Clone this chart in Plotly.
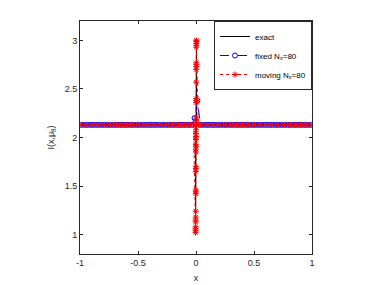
import plotly.graph_objects as go

# exact solution
exact_x = [-1.0, -0.005, -0.004, 0.004, 0.005, 1.0]
exact_y = [2.13, 2.13, 1.0, 3.0, 2.13, 2.13]

# fixed mesh, N_x = 80 (cell centres)
fixed_x = [-0.9875, -0.9625, -0.9375, -0.9125, -0.8875, -0.8625, -0.8375, -0.8125,
           -0.7875, -0.7625, -0.7375, -0.7125, -0.6875, -0.6625, -0.6375, -0.6125,
           -0.5875, -0.5625, -0.5375, -0.5125, -0.4875, -0.4625, -0.4375, -0.4125,
           -0.3875, -0.3625, -0.3375, -0.3125, -0.2875, -0.2625, -0.2375, -0.2125,
           -0.1875, -0.1625, -0.1375, -0.1125, -0.0875, -0.0625, -0.0375, -0.0125,
           0.0125, 0.0375, 0.0625, 0.0875, 0.1125, 0.1375, 0.1625, 0.1875,
           0.2125, 0.2375, 0.2625, 0.2875, 0.3125, 0.3375, 0.3625, 0.3875,
           0.4125, 0.4375, 0.4625, 0.4875, 0.5125, 0.5375, 0.5625, 0.5875,
           0.6125, 0.6375, 0.6625, 0.6875, 0.7125, 0.7375, 0.7625, 0.7875,
           0.8125, 0.8375, 0.8625, 0.8875, 0.9125, 0.9375, 0.9625, 0.9875]
fixed_y = [2.13, 2.13, 2.13, 2.13, 2.13, 2.13, 2.13, 2.13, 2.13, 2.13,
           2.13, 2.13, 2.13, 2.13, 2.13, 2.13, 2.13, 2.13, 2.13, 2.13,
           2.13, 2.13, 2.13, 2.13, 2.13, 2.13, 2.13, 2.13, 2.13, 2.13,
           2.13, 2.13, 2.13, 2.13, 2.13, 2.13, 2.13, 2.13, 2.13, 2.20,
           2.38, 2.13, 2.13, 2.13, 2.13, 2.13, 2.13, 2.13, 2.13, 2.13,
           2.13, 2.13, 2.13, 2.13, 2.13, 2.13, 2.13, 2.13, 2.13, 2.13,
           2.13, 2.13, 2.13, 2.13, 2.13, 2.13, 2.13, 2.13, 2.13, 2.13,
           2.13, 2.13, 2.13, 2.13, 2.13, 2.13, 2.13, 2.13, 2.13, 2.13]

# moving mesh, N_x = 80
moving_x = [-1.0, -0.95, -0.9, -0.85, -0.8, -0.75, -0.7, -0.65, -0.6, -0.55,
            -0.5, -0.45, -0.4, -0.35, -0.3, -0.25, -0.2, -0.15, -0.1, -0.05, -0.02,
            -0.0040, -0.0038, -0.0036, -0.0034, -0.0032, -0.0030, -0.0028, -0.0026,
            -0.0024, -0.0022, -0.0020, -0.0018, -0.0016, -0.0014, -0.0012, -0.0010,
            -0.0008, -0.0006, -0.0004, -0.0002, 0.0000, 0.0002, 0.0004, 0.0006,
            0.0008, 0.0010, 0.0012, 0.0014, 0.0016, 0.0018, 0.0020, 0.0022,
            0.0024, 0.0026, 0.0028, 0.0030, 0.0032, 0.0034,
            0.02, 0.05, 0.1, 0.15, 0.2, 0.25, 0.3, 0.35, 0.4, 0.45, 0.5,
            0.55, 0.6, 0.65, 0.7, 0.75, 0.8, 0.85, 0.9, 0.95, 1.0]
moving_y = [2.13, 2.13, 2.13, 2.13, 2.13, 2.13, 2.13, 2.13, 2.13, 2.13,
            2.13, 2.13, 2.13, 2.13, 2.13, 2.13, 2.13, 2.13, 2.13, 2.13, 2.13,
            1.02, 1.04, 1.06, 1.08, 1.13, 1.15, 1.18, 1.24,
            1.42, 1.44, 1.46, 1.65, 1.68, 1.70, 1.85, 1.88,
            1.91, 1.93, 1.98, 2.01, 2.04, 2.08, 2.13, 2.17,
            2.20, 2.36, 2.38, 2.40, 2.57, 2.70, 2.73, 2.75,
            2.77, 2.93, 2.95, 2.97, 2.99, 3.00,
            2.13, 2.13, 2.13, 2.13, 2.13, 2.13, 2.13, 2.13, 2.13, 2.13, 2.13,
            2.13, 2.13, 2.13, 2.13, 2.13, 2.13, 2.13, 2.13, 2.13, 2.13]

x_ticks = [-1, -0.5, 0, 0.5, 1]
x_ticktext = ["-1", "-0.5", "0", "0.5", "1"]
y_ticks = [1, 1.5, 2, 2.5, 3]
y_ticktext = ["1", "1.5", "2", "2.5", "3"]

font = "Liberation Sans, Arial, sans-serif"
axcol = "#262626"

fig = go.Figure()
fig.add_trace(go.Scatter(x=exact_x, y=exact_y, mode="lines", name="exact",
                         line=dict(color="black", width=1)))
fig.add_trace(go.Scatter(x=fixed_x, y=fixed_y, mode="lines+markers",
                         name="fixed N<sub>x</sub>=80",
                         line=dict(color="blue", width=1, dash="dash"),
                         marker=dict(symbol="circle-open", size=5, color="blue",
                                     line=dict(width=1, color="blue"))))
fig.add_trace(go.Scatter(x=moving_x, y=moving_y, mode="lines+markers",
                         name="moving N<sub>x</sub>=80",
                         line=dict(color="red", width=1, dash="dot"),
                         marker=dict(symbol="asterisk-open", size=5, color="red",
                                     line=dict(width=1, color="red"))))

axis_common = dict(showline=True, linecolor=axcol, linewidth=1, mirror="ticks",
                   ticks="inside", ticklen=3, tickcolor=axcol, showgrid=False,
                   zeroline=False, automargin=False,
                   tickfont=dict(family=font, size=9, color=axcol))

# page body has an 8px margin; figure is sized/offset to compensate
fig.update_layout(
    width=372, height=277,
    margin=dict(l=72, r=68, t=13, b=31),
    paper_bgcolor="white", plot_bgcolor="white",
    font=dict(family=font, size=9, color=axcol),
    showlegend=True,
    legend=dict(x=1, y=1, xanchor="right", yanchor="top",
                bgcolor="white", bordercolor=axcol, borderwidth=1,
                font=dict(family=font, size=8, color="black"),
                tracegroupgap=0, itemwidth=30),
    xaxis=dict(range=[-1, 1], tickvals=x_ticks, ticktext=x_ticktext,
               title=dict(text="x", standoff=7, font=dict(family=font, size=9, color=axcol)),
               **axis_common),
    yaxis=dict(range=[0.8, 3.2], tickvals=y_ticks, ticktext=y_ticktext,
               title=dict(text="I(x,\u03bc<sub>8</sub>)", standoff=8,
                          font=dict(family=font, size=9, color=axcol)),
               **axis_common),
)

fig.write_html("out.html")
